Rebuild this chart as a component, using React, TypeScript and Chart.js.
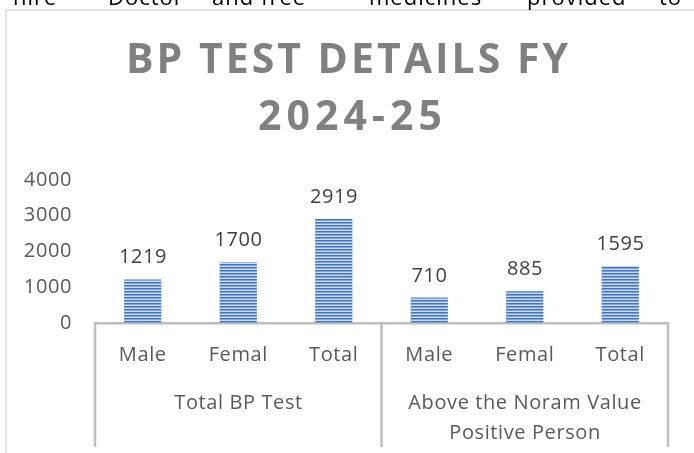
import React, { useEffect, useRef } from 'react';
import { Chart, registerables } from 'chart.js';

Chart.register(...registerables);

// ---- data ----
const categories = ['Male', 'Femal', 'Total', 'Male', 'Femal', 'Total'];
const values = [1219, 1700, 2919, 710, 885, 1595];
const groupLabels = [['Total BP Test'], ['Above the Noram Value', 'Positive Person']];
const groupSizes = [3, 3];
const yMin = 0;
const yMax = 4000;
const yStep = 1000;
const titleLines = ['BP TEST DETAILS FY', '2024-25'];
const headerWords = ['hire', 'Doctor', 'and', 'free', 'medicines', 'provided', 'to'];

const FONT = '"Open Sans", "Liberation Sans", sans-serif';
const GRAY_TEXT = '#595959';
const AXIS_GRAY = '#bfbfbf';
const SPACING = '0.6px';

function makeStripePattern(ctx: CanvasRenderingContext2D) {
  const c = document.createElement('canvas');
  c.width = 4;
  c.height = 3;
  const p = c.getContext('2d')!;
  const rows = ['#4576bb', '#7ea3d8', '#cbdaf0'];
  rows.forEach((col, i) => {
    p.fillStyle = col;
    p.fillRect(0, i, 4, 1);
  });
  return ctx.createPattern(c, 'repeat')!;
}

const spacingPlugin = {
  id: 'spacing',
  beforeDraw(chart: any) {
    (chart.ctx as any).letterSpacing = SPACING;
  },
};

const dataLabelPlugin = {
  id: 'dataLabels',
  afterDatasetsDraw(chart: any) {
    const ctx = chart.ctx as CanvasRenderingContext2D;
    const meta = chart.getDatasetMeta(0);
    ctx.save();
    (ctx as any).letterSpacing = SPACING;
    ctx.font = `20px ${FONT}`;
    ctx.fillStyle = '#404040';
    ctx.textAlign = 'center';
    ctx.textBaseline = 'alphabetic';
    meta.data.forEach((bar: any, i: number) => {
      ctx.fillText(String(values[i]), bar.x + 0.3, bar.y - 16);
    });
    ctx.restore();
  },
};

const decorPlugin = {
  id: 'decor',
  afterDraw(chart: any) {
    const ctx = chart.ctx as CanvasRenderingContext2D;
    const area = chart.chartArea;
    const xs = chart.scales.x;
    const H = chart.height;
    const W = chart.width;
    ctx.save();

    // outer chart frame (only left and top visible)
    ctx.strokeStyle = '#d9d9d9';
    ctx.lineWidth = 1.5;
    ctx.beginPath();
    ctx.moveTo(6, H);
    ctx.lineTo(6, 10);
    ctx.lineTo(W, 10);
    ctx.stroke();

    // document text line above (cut off)
    const wordX = [13, 108, 212, 261, 369, 527, 659];
    ctx.fillStyle = '#000';
    ctx.font = `22px ${FONT}`;
    (ctx as any).letterSpacing = '1px';
    ctx.textAlign = 'left';
    ctx.textBaseline = 'alphabetic';
    headerWords.forEach((w, i) => ctx.fillText(w, wordX[i], 5));

    // title
    ctx.fillStyle = '#808080';
    ctx.font = `bold 41px ${FONT}`;
    ctx.textAlign = 'center';
    (ctx as any).letterSpacing = '3px';
    ctx.fillText(titleLines[0], 348.5, 73);
    (ctx as any).letterSpacing = '5px';
    ctx.fillText(titleLines[1], 352.5, 130);

    // group separators
    const bounds: number[] = [area.left];
    let idx = 0;
    groupSizes.forEach((n) => {
      idx += n;
      if (idx < categories.length) {
        bounds.push((xs.getPixelForValue(idx - 1) + xs.getPixelForValue(idx)) / 2);
      } else {
        bounds.push(area.right);
      }
    });
    ctx.strokeStyle = AXIS_GRAY;
    ctx.lineWidth = 2.5;
    ctx.beginPath();
    bounds.forEach((b) => {
      ctx.moveTo(b, area.bottom - 1);
      ctx.lineTo(b, 447);
    });
    ctx.stroke();

    // group labels
    ctx.fillStyle = GRAY_TEXT;
    ctx.font = `20px ${FONT}`;
    (ctx as any).letterSpacing = SPACING;
    ctx.textAlign = 'center';
    groupLabels.forEach((lines, g) => {
      const cx = (bounds[g] + bounds[g + 1]) / 2 + 0.3;
      lines.forEach((t, li) => ctx.fillText(t, cx, 409 + li * 30));
    });

    ctx.restore();
  },
};

export default function App() {
  const ref = useRef<HTMLCanvasElement>(null);
  useEffect(() => {
    const canvas = ref.current!;
    const ctx = canvas.getContext('2d')!;
    const pattern = makeStripePattern(ctx);
    const chart = new Chart(canvas, {
      type: 'bar',
      data: {
        labels: categories,
        datasets: [
          {
            data: values,
            backgroundColor: pattern as any,
            borderWidth: 0,
            barPercentage: 0.39,
            categoryPercentage: 1,
          },
        ],
      },
      options: {
        responsive: false,
        animation: false,
        devicePixelRatio: 1,
        layout: { padding: { left: 0, right: 26, top: 180, bottom: 0 } },
        plugins: {
          legend: { display: false },
          title: { display: false },
          tooltip: { enabled: false },
        },
        scales: {
          x: {
            grid: { display: false, drawTicks: false },
            border: { display: true, color: AXIS_GRAY, width: 2.5 },
            ticks: {
              font: { family: FONT, size: 20 },
              color: GRAY_TEXT,
              padding: 20,
              maxRotation: 0,
              autoSkip: false,
            },
            afterFit: (s: any) => {
              s.height = 130;
            },
          },
          y: {
            min: yMin,
            max: yMax,
            grid: { display: false, drawTicks: false },
            border: { display: false },
            ticks: {
              stepSize: yStep,
              font: { family: FONT, size: 20 },
              color: GRAY_TEXT,
              padding: 23,
              callback: (v: any) => String(v),
            },
            afterFit: (s: any) => {
              s.width = 95;
            },
          },
        },
      },
      plugins: [spacingPlugin, dataLabelPlugin, decorPlugin],
    });
    return () => chart.destroy();
  }, []);
  return (
    <div style={{ position: 'absolute', left: 0, top: 0, width: 694, height: 453, background: '#fff' }}>
      <canvas ref={ref} width={694} height={453} style={{ display: 'block', width: 694, height: 453 }} />
    </div>
  );
}
